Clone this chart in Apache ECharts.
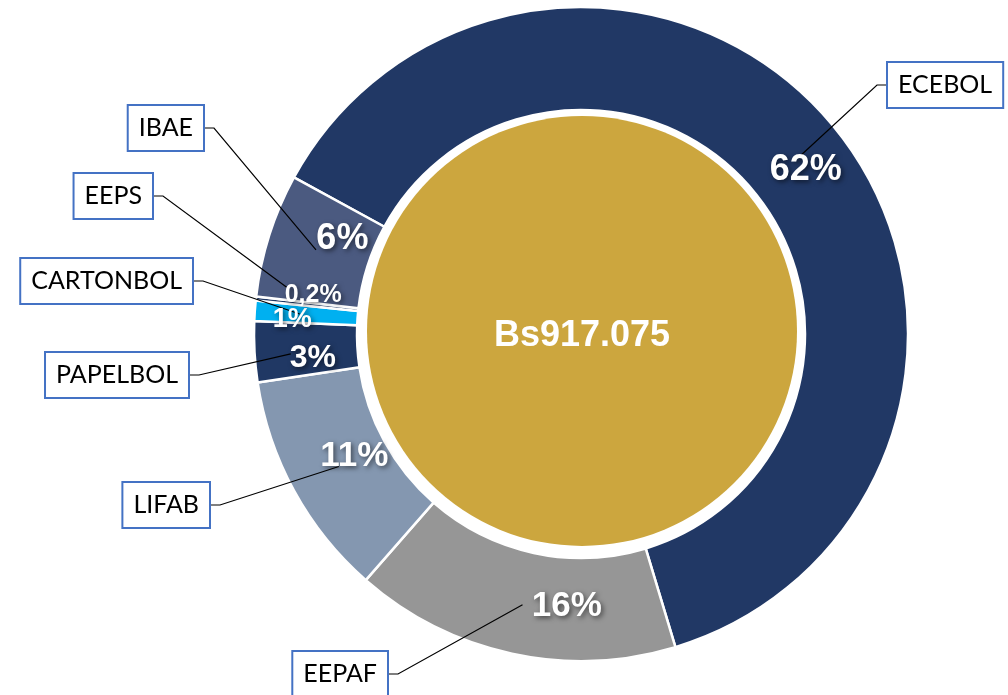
<!DOCTYPE html>
<html><head><meta charset="utf-8">
<script src="https://cdn.jsdelivr.net/npm/echarts@6/dist/echarts.min.js"></script>
<style>html,body{margin:0;padding:0;background:#fff}#c{width:1008px;height:695px}</style>
</head><body><div id="c"></div>
<script>
// ---- data ----
const categories = ['ECEBOL','EEPAF','LIFAB','PAPELBOL','CARTONBOL','EEPS','IBAE'];
const values = [572200,147600,102700,27500,9200,1800,56075];
const currencyPrefix = 'Bs';

// ---- styles / layout ----
const colors = ['#213865','#969696','#8497B0','#203864','#00B0F0','#203864','#4B5A80'];
const CX = 581, CY = 334, R_IN = 224, R_OUT = 327, START = 151.4;
const R_MID = (R_IN + R_OUT) / 2;
const pctFont = {ECEBOL:36,EEPAF:35,LIFAB:35,PAPELBOL:32,CARTONBOL:27,EEPS:25,IBAE:36};
const pctOffset = {ECEBOL:[11,10],EEPAF:[44,3],LIFAB:[15,-10],PAPELBOL:[7,9],CARTONBOL:[-14,5],EEPS:[6,-9],IBAE:[24,-12]};
const leaderR = {ECEBOL:283,EEPAF:277,LIFAB:276,PAPELBOL:291,CARTONBOL:282,EEPS:298,IBAE:278};
const leaderAngShift = {EEPS:-2.8, PAPELBOL:0.8};
const boxLayout = {ECEBOL:['left',888,85], IBAE:['right',203,128], EEPS:['right',152,196],
  CARTONBOL:['right',192,281], PAPELBOL:['right',188,375], LIFAB:['right',209,505], EEPAF:['right',387,674]};

const total = values.reduce((a,b)=>a+b,0);
const fmtTotal = currencyPrefix + String(total).replace(/\B(?=(\d{3})+(?!\d))/g,'.');
function pctText(v){
  const p = v/total*100;
  return p < 1 ? p.toFixed(1).replace('.',',') + '%' : Math.round(p) + '%';
}
const midAngles = [];
(function(){ let cum=0; values.forEach(v=>{ midAngles.push(START - (cum + v/2)/total*360); cum+=v; }); })();

const ringData = categories.map((n,i)=>({name:n, value:values[i], itemStyle:{color:colors[i]}}));
const nameData = categories.map((n,i)=>({name:n, value:values[i]}));
const pctData = categories.map((n,i)=>({name:n, value:values[i], label:{fontSize:pctFont[n]}}));

const chart = echarts.init(document.getElementById('c'), null, {renderer:'canvas'});
chart.setOption({
  animation:false,
  backgroundColor:'#ffffff',
  series:[
    {
      type:'pie', center:[582,331], radius:[0,215], silent:true,
      data:[{name:'total', value:total, itemStyle:{color:'#CCA63E'}}],
      label:{show:true, position:'center', formatter:()=>fmtTotal, color:'#ffffff', offset:[0,5],
        fontFamily:'Liberation Sans', fontWeight:'bold', fontSize:36},
      labelLine:{show:false}, emphasis:{disabled:true}
    },
    {
      type:'pie', center:[CX,CY], radius:[R_IN,R_OUT], startAngle:START, clockwise:true,
      silent:true, z:2,
      itemStyle:{borderColor:'#ffffff', borderWidth:2.5},
      label:{show:false}, labelLine:{show:false}, emphasis:{disabled:true},
      data:ringData
    },
    {
      type:'pie', center:[CX,CY], radius:[R_IN,R_OUT], startAngle:START, clockwise:true,
      silent:true, avoidLabelOverlap:false, minShowLabelAngle:0, z:6,
      itemStyle:{color:'rgba(0,0,0,0)', borderWidth:0},
      label:{show:true, position:'outside', formatter:p=>p.name, color:'#000000',
        fontFamily:'Lato', fontSize:25, lineHeight:30, padding:[7,10],
        backgroundColor:'#ffffff', borderColor:'#4472C4', borderWidth:2},
      labelLine:{show:true, smooth:false, lineStyle:{color:'#000000', width:1.2}},
      labelLayout:function(params){
        const i = params.dataIndex, n = categories[i], b = boxLayout[n];
        const a = (midAngles[i] + (leaderAngShift[n]||0)) * Math.PI/180, r = leaderR[n];
        const ex = CX + r*Math.cos(a), ey = CY - r*Math.sin(a);
        const bend = b[0]==='left' ? b[1]-11 : b[1]+11;
        return {x:b[1], y:b[2], align:b[0], verticalAlign:'middle',
          labelLinePoints:[[ex,ey],[bend,b[2]],[b[1],b[2]]]};
      },
      emphasis:{disabled:true},
      data:nameData
    },
    {
      type:'pie', center:[CX,CY], radius:[R_IN,R_OUT], startAngle:START, clockwise:true,
      silent:true, avoidLabelOverlap:false, minShowLabelAngle:0, z:8,
      itemStyle:{color:'rgba(0,0,0,0)', borderWidth:0},
      label:{show:true, position:'outside', formatter:p=>pctText(p.value), color:'#ffffff',
        fontFamily:'Liberation Sans', fontWeight:'bold',
        textShadowColor:'rgba(0,0,0,0.55)', textShadowBlur:5, textShadowOffsetX:2, textShadowOffsetY:2},
      labelLine:{show:false},
      labelLayout:function(params){
        const i = params.dataIndex, n = categories[i], off = pctOffset[n];
        const a = midAngles[i] * Math.PI/180;
        return {x:CX + R_MID*Math.cos(a) + off[0], y:CY - R_MID*Math.sin(a) + off[1],
          align:'center', verticalAlign:'middle'};
      },
      emphasis:{disabled:true},
      data:pctData
    }
  ]
});
</script></body></html>
